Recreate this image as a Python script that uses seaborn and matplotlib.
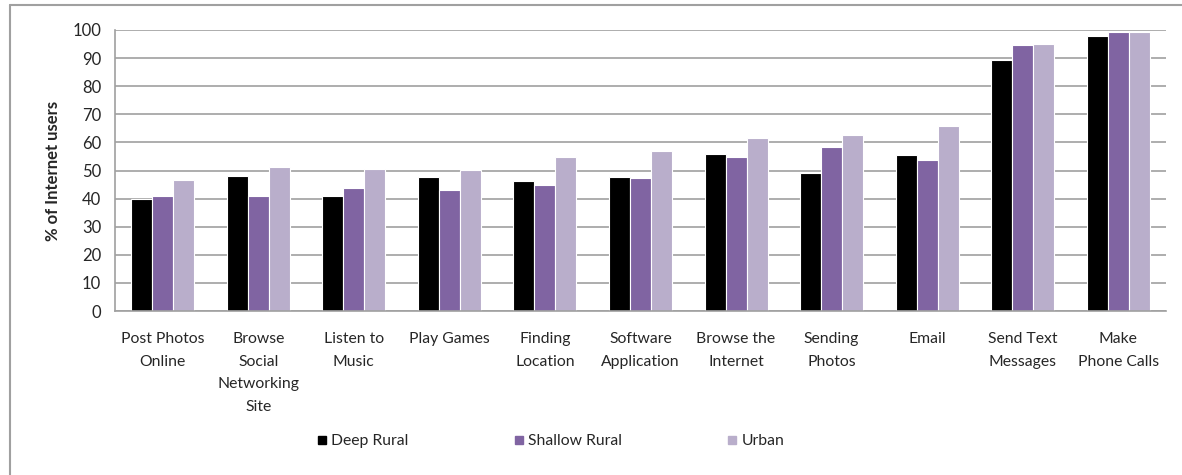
import pandas as pd
import numpy as np
import matplotlib
matplotlib.use("Agg")
import matplotlib.pyplot as plt
import seaborn as sns
from matplotlib.lines import Line2D

categories = ["Post Photos\nOnline", "Browse\nSocial\nNetworking\nSite", "Listen to\nMusic",
              "Play Games", "Finding\nLocation", "Software\nApplication", "Browse the\nInternet",
              "Sending\nPhotos", "Email", "Send Text\nMessages", "Make\nPhone Calls"]
deep_rural = [40.0, 48.2, 41.1, 47.6, 46.1, 47.6, 55.8, 49.2, 55.4, 89.5, 97.7]
shallow_rural = [41.1, 41.1, 43.6, 43.1, 44.7, 47.2, 54.9, 58.4, 53.8, 94.7, 99.3]
urban = [46.6, 51.3, 50.7, 50.2, 54.9, 56.9, 61.4, 62.5, 66.0, 95.1, 99.3]
series = ["Deep Rural", "Shallow Rural", "Urban"]
colors = ["#000000", "#8064A2", "#B9AECB"]

df = pd.DataFrame({"Activity": categories, "Deep Rural": deep_rural,
                   "Shallow Rural": shallow_rural, "Urban": urban})
long = df.melt(id_vars="Activity", var_name="Area", value_name="Pct")

sns.set_style("white")
plt.rcParams['font.family'] = ['Lato', 'DejaVu Sans']

fig = plt.figure(figsize=(11.82, 4.75), dpi=100)
ax = fig.add_axes([115/1182, 1-311/475, (1166-115)/1182, (311-30)/475])

sns.barplot(data=long, x="Activity", y="Pct", hue="Area", hue_order=series,
            palette=colors, width=0.66, edgecolor="white", linewidth=0.8,
            saturation=1, ax=ax, legend=False)

ax.set_ylim(0, 100)
ax.set_xlim(-0.5, len(categories) - 0.5)
ax.set_yticks(range(0, 101, 10))
ax.yaxis.grid(True, color="#A0A0A0", linewidth=1.2)
ax.set_axisbelow(True)
ax.set_xlabel("")
ax.set_ylabel("% of Internet users", fontsize=12, fontweight="bold", labelpad=8)

# category ticks between groups
ax.set_xticks(np.arange(len(categories)))
ax.set_xticklabels(categories, fontsize=11.3, linespacing=1.8)
ax.tick_params(axis="x", length=0, pad=15)
ax.set_xticks(np.arange(-0.5, len(categories)), minor=True)
ax.tick_params(axis="x", which="minor", length=6, color="#A0A0A0", width=1.2)
ax.tick_params(axis="y", length=6, color="#A0A0A0", width=1.2, labelsize=12, pad=4)

for s in ["top", "right"]:
    ax.spines[s].set_visible(False)
for s in ["left", "bottom"]:
    ax.spines[s].set_color("#A0A0A0")
    ax.spines[s].set_linewidth(1.2)

handles = [Line2D([0], [0], marker="s", linestyle="", color=c, markersize=6) for c in colors]
fig.legend(handles, series, loc="center", bbox_to_anchor=(550/1182, 1-441/475),
           ncol=3, frameon=False, fontsize=11.3, columnspacing=6.6,
           handletextpad=0.2, handlelength=0.8)

# outer chart border
fig.add_artist(Line2D([10/1182, 10/1182], [0, 1-5/475], color="#A0A0A0", linewidth=1.5,
                      transform=fig.transFigure))
fig.add_artist(Line2D([10/1182, 1], [1-5/475, 1-5/475], color="#A0A0A0", linewidth=1.5,
                      transform=fig.transFigure))

fig.savefig("out.png", dpi=100)
